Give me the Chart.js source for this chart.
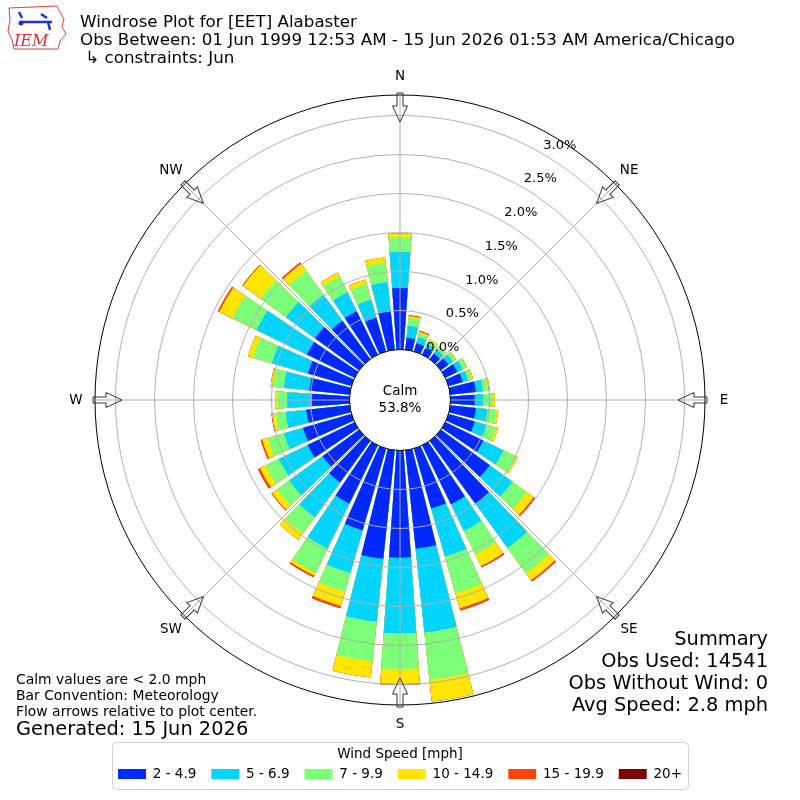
<!DOCTYPE html>
<html>
<head>
<meta charset="utf-8">
<title>Windrose Plot for [EET] Alabaster</title>
<script src="https://cdn.jsdelivr.net/npm/chart.js@4.4.1/dist/chart.umd.min.js"></script>
<style>
  html, body { margin: 0; padding: 0; background: #ffffff; }
  #rose { display: block; }
</style>
</head>
<body>
<canvas id="rose" width="800" height="800"></canvas>
<script>
// direction bins (degrees, meteorological, clockwise from north)
var directions = ["0","10","20","30","40","50","60","70","80","90","100","110",
                  "120","130","140","150","160","170","180","190","200","210","220","230",
                  "240","250","260","270","280","290","300","310","320","330","340","350"];

var speed_bins = ["2 - 4.9", "5 - 6.9", "7 - 9.9", "10 - 14.9", "15 - 19.9", "20+"];
var bin_colors = ["#0028ff", "#00d4ff", "#7dff7a", "#ffe600", "#ff4500", "#800000"];

// frequency [%] per direction for each speed bin
var spd_2_5   = [0.79,0.155,0.11,0.09,0.09,0.12,0.17,0.19,0.33,0.31,0.33,0.35,
                 0.54,0.775,1.00,0.84,0.80,1.27,1.374,1.40,1.09,0.83,0.66,0.58,
                 0.67,0.645,0.56,0.48,0.52,0.58,0.68,0.70,0.61,0.62,0.45,0.50];
var spd_5_7   = [0.46,0.155,0.08,0.06,0.06,0.07,0.08,0.07,0.09,0.11,0.15,0.16,
                 0.29,0.36,0.70,0.38,0.64,1.08,0.97,0.81,0.57,0.64,0.55,0.53,
                 0.41,0.255,0.265,0.32,0.33,0.48,0.72,0.46,0.41,0.27,0.24,0.37];
var spd_7_10  = [0.19,0.10,0.05,0.05,0.04,0.045,0.05,0.05,0.06,0.12,0.11,0.12,
                 0.18,0.225,0.40,0.335,0.49,0.61,0.46,0.51,0.25,0.35,0.26,0.19,
                 0.19,0.215,0.13,0.12,0.13,0.25,0.34,0.40,0.38,0.22,0.21,0.25];
var spd_10_15 = [0.05,0.025,0.022,0.015,0.01,0.01,0.01,0.02,0.03,0.03,0.03,0.03,
                 0.02,0.11,0.11,0.165,0.20,0.28,0.19,0.21,0.19,0.04,0.10,0.08,
                 0.08,0.075,0.045,0.035,0.04,0.07,0.19,0.28,0.11,0.06,0.06,0.07];
var spd_15_20 = [0,0.011,0.013,0,0,0,0,0,0,0,0,0,
                 0,0.02,0.02,0.02,0.03,0,0.013,0,0.03,0.02,0,0.01,
                 0.03,0.02,0.01,0,0,0,0.02,0.01,0.02,0,0,0];
var spd_20p   = [0,0,0,0,0,0,0,0,0,0,0,0,
                 0,0,0,0,0,0,0,0,0,0,0,0,
                 0,0,0,0,0,0,0,0,0,0,0,0];

var tick_values = [0, 0.5, 1.0, 1.5, 2.0, 2.5, 3.0];
var r_min = -0.6474;   // puts 0 % on the edge of the calm circle
var r_max = 3.263;
var calm_pct = 53.8;
var bar_angle = 8, gap_angle = 2;

var compass = ["N", "NE", "E", "SE", "S", "SW", "W", "NW"];
var summary = ["Summary", "Obs Used: 14541", "Obs Without Wind: 0", "Avg Speed: 2.8 mph"];
var notes = ["Calm values are < 2.0 mph", "Bar Convention: Meteorology", "Flow arrows relative to plot center."];

Chart.defaults.font.family = "'DejaVu Sans', 'Noto Sans', sans-serif";
Chart.defaults.color = "#000";

// each bar is followed by an empty slot that makes the gap between bars
var labels = [];
directions.forEach(function (d) { labels.push(d, ""); });

// stacked rose: every layer is drawn from the centre with its cumulative value
var bins = [spd_2_5, spd_5_7, spd_7_10, spd_10_15, spd_15_20, spd_20p];
var running = directions.map(function () { return 0; });
var datasets = bins.map(function (vals, b) {
  running = running.map(function (s, i) { return s + vals[i]; });
  var data = [];
  running.forEach(function (v) { data.push(+v.toFixed(4), null); });
  return {
    label: speed_bins[b],
    data: data,
    backgroundColor: bin_colors[b],
    borderWidth: 0,
    angle: function (ctx) { return ctx.index % 2 ? gap_angle : bar_angle; }
  };
});

function font(size) { return size + "px 'DejaVu Sans'"; }

var rosePlugin = {
  id: "rose",
  afterDatasetsDraw: function (chart) {
    var r = chart.scales.r, ctx = chart.ctx;
    var cx = r.xCenter, cy = r.yCenter, rOut = r.drawingArea;
    var rIn = r.getDistanceFromCenterForValue(0);
    ctx.save();
    ctx.strokeStyle = "#b0b0b0";
    ctx.lineWidth = 1;
    for (var a = 0; a < 360; a += 45) {
      var t = a * Math.PI / 180;
      ctx.beginPath();
      ctx.moveTo(cx, cy);
      ctx.lineTo(cx + rOut * Math.sin(t), cy - rOut * Math.cos(t));
      ctx.stroke();
    }
    ctx.fillStyle = "#fff";
    ctx.beginPath();
    ctx.arc(cx, cy, rIn, 0, 2 * Math.PI);
    ctx.fill();
    ctx.fillStyle = "#000";
    ctx.font = font(13.5);
    ctx.textAlign = "center";
    ctx.textBaseline = "middle";
    ctx.fillText("Calm", cx, cy - 9);
    ctx.fillText(calm_pct.toFixed(1) + "%", cx, cy + 8);
    ctx.restore();
  },
  afterDraw: function (chart) {
    var r = chart.scales.r, ctx = chart.ctx;
    var cx = r.xCenter, cy = r.yCenter, rOut = r.drawingArea;
    ctx.save();

    // radial tick labels along the 30 degree line
    ctx.fillStyle = "#000";
    ctx.font = font(13);
    ctx.textAlign = "left";
    ctx.textBaseline = "middle";
    var la = 30 * Math.PI / 180;
    tick_values.forEach(function (v) {
      var rr = r.getDistanceFromCenterForValue(v);
      ctx.fillText(v.toFixed(1) + "%", cx + rr * Math.sin(la) + 1, cy - rr * Math.cos(la) - 8.5);
    });

    // compass labels and inward flow arrows
    ctx.font = font(13.5);
    ctx.textAlign = "center";
    compass.forEach(function (lab, i) {
      var t = i * 45 * Math.PI / 180;
      ctx.fillStyle = "#000";
      ctx.fillText(lab, cx + (rOut + 19) * Math.sin(t), cy - (rOut + 19) * Math.cos(t));
      ctx.save();
      ctx.translate(cx + (rOut + 2) * Math.sin(t), cy - (rOut + 2) * Math.cos(t));
      ctx.rotate(t);
      ctx.beginPath();
      ctx.moveTo(-3, 0); ctx.lineTo(3, 0); ctx.lineTo(3, 13); ctx.lineTo(7.5, 13);
      ctx.lineTo(0, 29); ctx.lineTo(-7.5, 13); ctx.lineTo(-3, 13); ctx.closePath();
      ctx.strokeStyle = "#333";
      ctx.lineWidth = 1;
      ctx.stroke();
      ctx.restore();
    });

    // legend frame
    var lg = chart.legend;
    if (lg && lg.legendHitBoxes && lg.legendHitBoxes.length) {
      var hb = lg.legendHitBoxes, last = hb[hb.length - 1];
      var x0 = hb[0].left - 6, x1 = last.left + last.width + 6;
      var y0 = lg.top + 37, y1 = lg.top + 84;
      ctx.strokeStyle = "#d0d0d0";
      ctx.lineWidth = 1;
      ctx.beginPath();
      ctx.roundRect(x0 + 0.5, y0 + 0.5, x1 - x0, y1 - y0, 4);
      ctx.stroke();
    }

    // titles
    ctx.fillStyle = "#000";
    ctx.textAlign = "left";
    ctx.textBaseline = "alphabetic";
    ctx.font = font(16.7);
    ctx.fillText("Windrose Plot for [EET] Alabaster", 80, 27.2);
    ctx.fillText("Obs Between: 01 Jun 1999 12:53 AM - 15 Jun 2026 01:53 AM America/Chicago", 80, 44.9);
    ctx.fillText(" \u21b3 constraints: Jun", 80, 62.6);

    // notes bottom left
    ctx.textBaseline = "middle";
    ctx.font = font(13.9);
    notes.forEach(function (s, i) { ctx.fillText(s, 16, 680 + i * 16); });
    ctx.font = font(19.4);
    ctx.fillText("Generated: 15 Jun 2026", 16, 730);

    // summary bottom right
    ctx.textAlign = "right";
    summary.forEach(function (s, i) { ctx.fillText(s, 768, 640 + i * 22); });

    // IEM logo
    ctx.strokeStyle = "#d84040";
    ctx.lineWidth = 1;
    ctx.beginPath();
    ctx.moveTo(9, 8); ctx.lineTo(57, 6); ctx.lineTo(60, 12); ctx.lineTo(64, 19);
    ctx.lineTo(62, 27); ctx.lineTo(66, 34); ctx.lineTo(60, 41); ctx.lineTo(58, 49);
    ctx.lineTo(14, 49); ctx.lineTo(12, 40); ctx.lineTo(8, 31); ctx.lineTo(10, 20);
    ctx.closePath();
    ctx.stroke();
    ctx.strokeStyle = "#2233cc";
    ctx.lineWidth = 2.5;
    ctx.beginPath();
    ctx.moveTo(22, 22); ctx.lineTo(52, 22);
    ctx.moveTo(19, 12); ctx.lineTo(22, 18);
    ctx.moveTo(41, 14); ctx.lineTo(47, 18);
    ctx.moveTo(48, 22); ctx.lineTo(50, 30);
    ctx.stroke();
    ctx.fillStyle = "#2233cc";
    ctx.beginPath(); ctx.arc(21, 23, 2.5, 0, 2 * Math.PI); ctx.fill();
    ctx.fillStyle = "#d83030";
    ctx.font = "italic 16px 'DejaVu Serif', 'Liberation Serif', serif";
    ctx.textAlign = "left";
    ctx.textBaseline = "alphabetic";
    ctx.fillText("IEM", 14, 46);

    ctx.restore();
  }
};

new Chart(document.getElementById("rose"), {
  type: "polarArea",
  data: {
    labels: labels,
    datasets: datasets
  },
  options: {
    responsive: false,
    animation: false,
    layout: { padding: { top: 95, left: 95, right: 95, bottom: 15 } },
    scales: {
      r: {
        type: "radialLinear",
        min: r_min,
        max: r_max,
        startAngle: -bar_angle / 2,
        afterBuildTicks: function (scale) {
          scale.ticks = tick_values.concat([r_max]).map(function (v) { return { value: v }; });
        },
        ticks: { display: false },
        pointLabels: { display: false },
        angleLines: { display: false },
        grid: {
          z: 1,
          circular: true,
          lineWidth: 1,
          color: function (ctx) {
            var v = ctx.tick ? ctx.tick.value : 1;
            return (v === 0 || v >= r_max) ? "#000000" : "#b0b0b0";
          }
        }
      }
    },
    plugins: {
      tooltip: { enabled: false },
      legend: {
        position: "bottom",
        maxHeight: 80,
        labels: {
          boxWidth: 28,
          boxHeight: 10,
          padding: 15,
          color: "#000",
          font: { size: 13.5 },
          generateLabels: function (chart) {
            return chart.data.datasets.map(function (ds, i) {
              return { text: ds.label, fillStyle: ds.backgroundColor, strokeStyle: ds.backgroundColor,
                       lineWidth: 0, hidden: false, datasetIndex: i };
            });
          }
        },
        title: {
          display: true,
          text: "Wind Speed [mph]",
          color: "#000",
          font: { size: 13.5 },
          padding: { top: 42.25, bottom: -11.2 }
        }
      }
    }
  },
  plugins: [rosePlugin]
});
</script>
</body>
</html>
